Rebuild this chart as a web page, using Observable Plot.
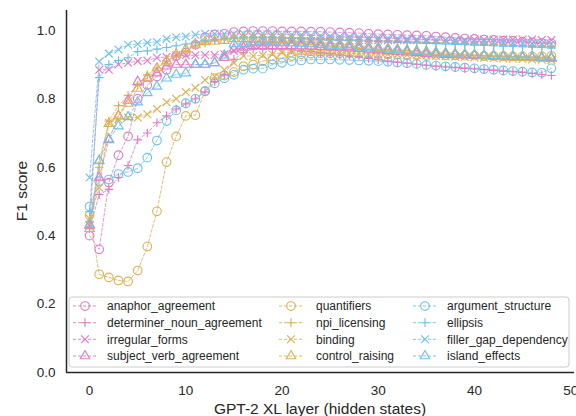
<!DOCTYPE html>
<html>
<head>
<meta charset="utf-8">
<script src="https://cdn.jsdelivr.net/npm/d3@7"></script>
<script src="https://cdn.jsdelivr.net/npm/@observablehq/plot@0.6"></script>
<style>
  html, body { margin: 0; padding: 0; background: #fff; }
  #chart { width: 576px; height: 416px; overflow: hidden; }
</style>
</head>
<body>
<div id="chart"></div>
<script>
const layers = [0,1,2,3,4,5,6,7,8,9,10,11,12,13,14,15,16,17,18,19,20,21,22,23,24,25,26,27,28,29,30,31,32,33,34,35,36,37,38,39,40,41,42,43,44,45,46,47,48];

const seriesNames = ["anaphor_agreement","determiner_noun_agreement","irregular_forms","subject_verb_agreement",
  "quantifiers","npi_licensing","binding","control_raising",
  "argument_structure","ellipsis","filler_gap_dependency","island_effects"];

const anaphor_agreement = [0.40,0.36,0.555,0.635,0.69,0.80,0.84,0.865,0.885,0.925,0.935,
  0.958,0.98,0.988,0.99,0.995, 0.997,0.998,0.998,0.998,0.997, 0.997,0.997,0.996,0.996,0.995,
  0.994,0.993,0.992,0.99,0.989, 0.988,0.987,0.986,0.985,0.984, 0.982,0.98,0.978,0.976,0.975,
  0.973,0.972,0.97,0.969,0.967, 0.965,0.963,0.962];
const determiner_noun_agreement = [0.42,0.52,0.535,0.57,0.605,0.68,0.70,0.73,0.75,0.77,0.785,
  0.80,0.82,0.85,0.87,0.915, 0.935,0.945,0.945,0.945,0.945, 0.943,0.94,0.938,0.935,0.932,
  0.928,0.925,0.922,0.918,0.914, 0.91,0.907,0.904,0.901,0.898, 0.895,0.893,0.891,0.889,0.887,
  0.885,0.883,0.881,0.879,0.877, 0.874,0.871,0.868];
const irregular_forms = [0.43,0.885,0.885,0.90,0.905,0.91,0.912,0.92,0.922,0.927,0.927,
  0.927,0.928,0.928,0.93,0.94, 0.95,0.955,0.96,0.963,0.965, 0.967,0.968,0.969,0.97,0.97,
  0.97,0.97,0.971,0.971,0.971, 0.971,0.971,0.972,0.972,0.972, 0.972,0.972,0.972,0.972,0.973,
  0.973,0.973,0.973,0.973,0.973, 0.973,0.972,0.972];
const subject_verb_agreement = [0.43,0.57,0.68,0.75,0.795,0.85,0.86,0.875,0.895,0.90,0.90,
  0.90,0.90,0.905,0.92,0.945, 0.95,0.955,0.955,0.955,0.955, 0.955,0.954,0.953,0.952,0.951,
  0.95,0.948,0.946,0.944,0.942, 0.94,0.938,0.936,0.934,0.932, 0.93,0.929,0.928,0.927,0.926,
  0.925,0.924,0.923,0.922,0.921, 0.92,0.92,0.92];
const quantifiers = [0.46,0.287,0.278,0.269,0.266,0.298,0.368,0.471,0.615,0.69,0.75,
  0.752,0.822,0.86,0.868,0.878, 0.895,0.90,0.91,0.915,0.92, 0.925,0.93,0.932,0.933,0.933,
  0.933,0.933,0.932,0.932,0.931, 0.93,0.93,0.929,0.929,0.928, 0.928,0.927,0.927,0.926,0.926,
  0.925,0.925,0.925,0.924,0.924, 0.924,0.924,0.925];
const npi_licensing = [0.44,0.60,0.735,0.78,0.81,0.84,0.87,0.89,0.91,0.925,0.94,
  0.955,0.963,0.97,0.975,0.978, 0.98,0.98,0.98,0.98,0.98, 0.979,0.978,0.977,0.976,0.975,
  0.974,0.973,0.972,0.971,0.97, 0.969,0.968,0.967,0.966,0.965, 0.964,0.963,0.962,0.961,0.96,
  0.959,0.958,0.957,0.956,0.955, 0.955,0.954,0.953];
const binding = [0.45,0.54,0.73,0.74,0.745,0.745,0.755,0.77,0.79,0.80,0.82,
  0.832,0.855,0.865,0.885,0.905, 0.925,0.925,0.927,0.93,0.935, 0.937,0.938,0.938,0.937,0.936,
  0.935,0.934,0.933,0.932,0.931, 0.93,0.929,0.928,0.927,0.926, 0.925,0.924,0.923,0.922,0.921,
  0.92,0.919,0.918,0.917,0.916, 0.915,0.914,0.913];
const control_raising = [0.42,0.62,0.727,0.75,0.786,0.83,0.862,0.89,0.91,0.93,0.945,
  0.959,0.966,0.968,0.97,0.975, 0.975,0.975,0.974,0.973,0.972, 0.97,0.968,0.966,0.964,0.962,
  0.96,0.958,0.955,0.952,0.95, 0.947,0.945,0.942,0.94,0.938, 0.936,0.934,0.932,0.93,0.928,
  0.926,0.924,0.922,0.921,0.92, 0.919,0.918,0.917];
const argument_structure = [0.485,0.559,0.564,0.58,0.586,0.597,0.628,0.678,0.735,0.766,0.787,
  0.80,0.822,0.845,0.86,0.87, 0.885,0.888,0.888,0.90,0.905, 0.91,0.912,0.915,0.915,0.915,
  0.914,0.913,0.912,0.911,0.91, 0.908,0.906,0.904,0.902,0.899, 0.897,0.895,0.893,0.891,0.889,
  0.887,0.885,0.883,0.881,0.879, 0.877,0.876,0.889];
const ellipsis = [0.47,0.862,0.90,0.912,0.92,0.938,0.94,0.945,0.95,0.955,0.96,
  0.965,0.97,0.973,0.975,0.977, 0.978,0.978,0.978,0.978,0.977, 0.976,0.975,0.974,0.973,0.972,
  0.971,0.97,0.969,0.968,0.967, 0.966,0.965,0.964,0.963,0.962, 0.961,0.96,0.959,0.958,0.957,
  0.956,0.955,0.954,0.953,0.952, 0.951,0.95,0.948];
const filler_gap_dependency = [0.57,0.909,0.932,0.944,0.958,0.96,0.964,0.966,0.975,0.98,0.982,
  0.987,0.99,0.99,0.99,0.99, 0.99,0.99,0.99,0.989,0.988, 0.987,0.986,0.985,0.984,0.983,
  0.982,0.981,0.98,0.979,0.978, 0.977,0.976,0.975,0.974,0.973, 0.972,0.971,0.97,0.969,0.968,
  0.967,0.966,0.965,0.964,0.963, 0.962,0.961,0.96];
const island_effects = [0.433,0.618,0.682,0.72,0.747,0.79,0.817,0.836,0.86,0.871,0.875,
  0.90,0.90,0.905,0.927,0.96, 0.962,0.965,0.965,0.965,0.964, 0.963,0.962,0.96,0.958,0.956,
  0.954,0.952,0.95,0.948,0.946, 0.944,0.942,0.94,0.938,0.936, 0.934,0.932,0.93,0.929,0.928,
  0.927,0.926,0.925,0.924,0.923, 0.922,0.92,0.918];

const seriesValues = [anaphor_agreement, determiner_noun_agreement, irregular_forms, subject_verb_agreement,
  quantifiers, npi_licensing, binding, control_raising,
  argument_structure, ellipsis, filler_gap_dependency, island_effects];

const groupColors = ["#e07cc8", "#dbb153", "#6fc1ea"];
const symbols = ["circle", "plus", "times", "triangle"];
const symbolR = {circle: 4.3, plus: 2.9, times: 3.6, triangle: 3.5};

const yTicks = [0.0, 0.2, 0.4, 0.6, 0.8, 1.0];
const xTicks = [0, 10, 20, 30, 40, 50];
const xLabel = "GPT-2 XL layer (hidden states)";
const yLabel = "F1 score";

const rows = [];
seriesNames.forEach((name, i) => {
  seriesValues[i].forEach((v, j) => rows.push({series: name, idx: i, layer: layers[j], f1: v}));
});
const colorOf = name => groupColors[Math.floor(seriesNames.indexOf(name) / 4)];
const symOf = name => symbols[seriesNames.indexOf(name) % 4];

const FONT = "'Liberation Sans', Arial, sans-serif";

const dotMarks = symbols.map(s => Plot.dot(rows.filter(d => symOf(d.series) === s), {
  x: "layer", y: "f1", symbol: () => s, stroke: d => colorOf(d.series),
  fill: "none", r: symbolR[s], strokeWidth: 1.15
}));

const plot = Plot.plot({
  width: 576,
  height: 416,
  marginLeft: 66,
  marginRight: 2,
  marginTop: 10,
  marginBottom: 44,
  style: {fontFamily: FONT, background: "#fff", color: "#262626", overflow: "visible"},
  x: {domain: [-2.4, 50.4]},
  y: {domain: [0, 1.058]},
  symbol: {domain: symbols, range: symbols},
  marks: [
    Plot.axisX({ticks: xTicks, tickSize: 0, tickPadding: 13, fontSize: 13.5, tickFormat: d => String(d), label: null}),
    Plot.axisY({ticks: yTicks, tickSize: 0, tickPadding: 11, fontSize: 13.5, tickFormat: d => d.toFixed(1), label: null}),
    Plot.line(rows, {x: "layer", y: "f1", z: "series", stroke: d => colorOf(d.series),
      strokeWidth: 0.9, strokeDasharray: "3,2", strokeOpacity: 0.9}),
    ...dotMarks,
    Plot.ruleX([-2.4], {stroke: "#262626", strokeWidth: 1.5}),
    Plot.ruleY([0], {stroke: "#262626", strokeWidth: 1.5})
  ]
});

document.getElementById("chart").appendChild(plot);

const svg = d3.select(plot);

// axis titles
svg.append("text").attr("x", 320).attr("y", 409).attr("dy", "0.35em")
  .attr("text-anchor", "middle").attr("font-size", 15.5).attr("fill", "#262626")
  .style("font-family", FONT).text(xLabel);
svg.append("text").attr("transform", "translate(22,191) rotate(-90)").attr("dy", "0.35em")
  .attr("text-anchor", "middle").attr("font-size", 15.5).attr("fill", "#262626")
  .style("font-family", FONT).text(yLabel);

// Legend drawn inside the SVG
const lg = svg.append("g").attr("class", "legend").style("font-family", FONT).attr("text-anchor", "start");
lg.append("rect").attr("x", 69).attr("y", 297).attr("width", 500).attr("height", 70)
  .attr("rx", 3).attr("fill", "#fff").attr("fill-opacity", 0.85).attr("stroke", "#cccccc").attr("stroke-width", 1);
const colHandle = [73, 279, 413];
const colText = [107, 316, 447];
const rowY = [306, 322.7, 339.3, 356];
const symMap = {circle: d3.symbolCircle, plus: d3.symbolPlus, times: d3.symbolTimes, triangle: d3.symbolTriangle};
seriesNames.forEach((name, i) => {
  const c = Math.floor(i / 4), r = i % 4;
  const y = rowY[r], x0 = colHandle[c];
  const col = groupColors[c];
  const s = symbols[r];
  lg.append("line").attr("x1", x0).attr("x2", x0 + 24).attr("y1", y).attr("y2", y)
    .attr("stroke", col).attr("stroke-width", 0.9).attr("stroke-dasharray", "3,2");
  lg.append("path").attr("d", d3.symbol(symMap[s], Math.PI * symbolR[s] * symbolR[s])())
    .attr("transform", `translate(${x0 + 12},${y})`)
    .attr("fill", "none").attr("stroke", col).attr("stroke-width", 1.15);
  lg.append("text").attr("x", colText[c]).attr("y", y).attr("dy", "0.35em")
    .attr("text-anchor", "start").attr("font-size", 12).attr("fill", "#262626").text(name);
});
</script>
</body>
</html>
